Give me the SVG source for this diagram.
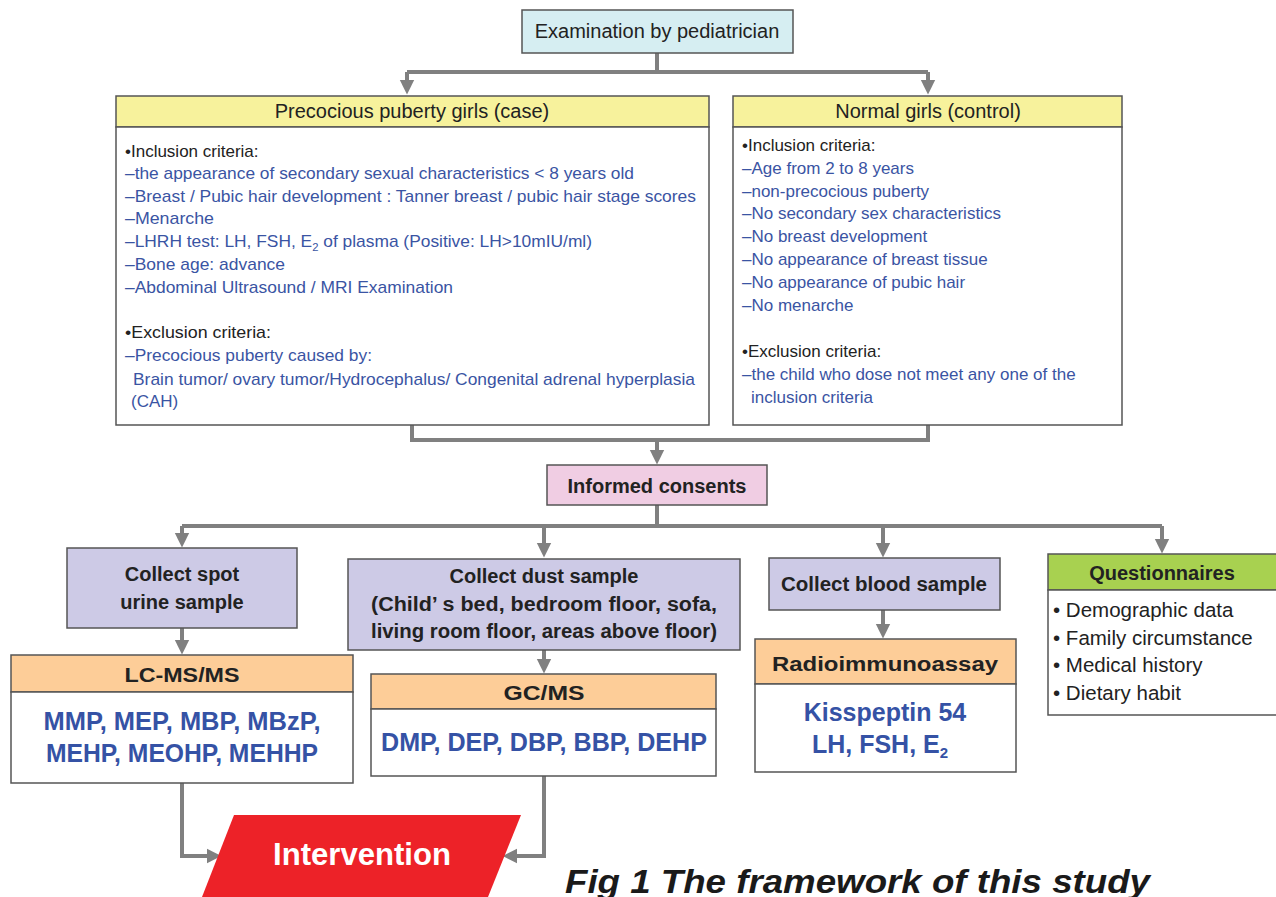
<svg xmlns="http://www.w3.org/2000/svg" width="1276" height="897" viewBox="0 0 1276 897">
<defs>
<marker id="ah" markerWidth="4" markerHeight="4" refX="2" refY="2" orient="auto" markerUnits="strokeWidth" viewBox="0 0 4 4">
<path d="M0,0.2 L3.6,2 L0,3.8 Z" fill="#808080"/>
</marker>
<style>
.box{stroke:#555;stroke-width:1.5}
.ln{fill:none;stroke:#808080;stroke-width:4}
.arr{fill:none;stroke:#808080;stroke-width:4;marker-end:url(#ah)}
.t{font-family:"Liberation Sans",Arial,sans-serif;fill:#222}
.hd{font-size:20px;text-anchor:middle}
.b{font-weight:bold}
.crit{font-size:17px}
.bl{fill:#3a54a3}
.bb{fill:#3552a5;font-weight:bold;font-size:25px;text-anchor:middle}
</style>
</defs>
<rect width="1276" height="897" fill="#fff"/>

<g id="connectors">
<path class="ln" d="M657,53 V72 M407,72 H928"/>
<path class="arr" d="M407,72 V88"/>
<path class="arr" d="M928,72 V88"/>
<path class="ln" d="M412,425 V440 H928 V425"/>
<path class="arr" d="M657,440 V458"/>
<path class="ln" d="M657,505 V526 M182,526 H1162"/>
<path class="arr" d="M182,526 V541"/>
<path class="arr" d="M544,526 V551"/>
<path class="arr" d="M883,526 V551"/>
<path class="arr" d="M1162,526 V547"/>
<path class="arr" d="M182,628 V648"/>
<path class="arr" d="M544,650 V667"/>
<path class="arr" d="M883,610 V632"/>
<path class="arr" d="M182,783 V856 H215"/>
<path class="arr" d="M544,776 V856 H509"/>
</g>

<g id="exam">
<rect class="box" x="522" y="10" width="271" height="43" fill="#d6eef2"/>
<text class="t hd" x="657" y="38" font-size="21">Examination by pediatrician</text>
</g>

<g id="case">
<rect class="box" x="116" y="96" width="593" height="31" fill="#f7f29c"/>
<rect class="box" x="116" y="127" width="593" height="298" fill="#fff"/>
<text class="t hd" x="412" y="118" font-size="21">Precocious puberty girls (case)</text>
<g class="t crit">
<text x="125" y="157">•Inclusion criteria:</text>
<text class="bl" x="125" y="179" textLength="509" lengthAdjust="spacingAndGlyphs">–the appearance of secondary sexual characteristics &lt; 8 years old</text>
<text class="bl" x="125" y="202" textLength="571" lengthAdjust="spacingAndGlyphs">–Breast / Pubic hair development : Tanner breast / pubic hair stage scores</text>
<text class="bl" x="125" y="224" textLength="89" lengthAdjust="spacingAndGlyphs">–Menarche</text>
<text class="bl" x="125" y="247" textLength="467" lengthAdjust="spacingAndGlyphs">–LHRH test: LH, FSH, E<tspan font-size="11" dy="4">2</tspan><tspan dy="-4"> of plasma (Positive: LH&gt;10mIU/ml)</tspan></text>
<text class="bl" x="125" y="270" textLength="160" lengthAdjust="spacingAndGlyphs">–Bone age: advance</text>
<text class="bl" x="125" y="293" textLength="328" lengthAdjust="spacingAndGlyphs">–Abdominal Ultrasound / MRI Examination</text>
<text x="125" y="338" textLength="146" lengthAdjust="spacingAndGlyphs">•Exclusion criteria:</text>
<text class="bl" x="125" y="361" textLength="247" lengthAdjust="spacingAndGlyphs">–Precocious puberty caused by:</text>
<text class="bl" x="133" y="385" textLength="562" lengthAdjust="spacingAndGlyphs">Brain tumor/ ovary tumor/Hydrocephalus/ Congenital adrenal hyperplasia</text>
<text class="bl" x="131" y="407">(CAH)</text>
</g>
</g>

<g id="control">
<rect class="box" x="733" y="96" width="389" height="31" fill="#f7f29c"/>
<rect class="box" x="733" y="127" width="389" height="298" fill="#fff"/>
<text class="t hd" x="928" y="118" font-size="21">Normal girls (control)</text>
<g class="t crit">
<text x="742" y="151">•Inclusion criteria:</text>
<text class="bl" x="742" y="174">–Age from 2 to 8 years</text>
<text class="bl" x="742" y="197">–non-precocious puberty</text>
<text class="bl" x="742" y="219">–No secondary sex characteristics</text>
<text class="bl" x="742" y="242">–No breast development</text>
<text class="bl" x="742" y="265">–No appearance of breast tissue</text>
<text class="bl" x="742" y="288">–No appearance of pubic hair</text>
<text class="bl" x="742" y="311">–No menarche</text>
<text x="742" y="357">•Exclusion criteria:</text>
<text class="bl" x="742" y="380">–the child who dose not meet any one of the</text>
<text class="bl" x="751" y="403">inclusion criteria</text>
</g>
</g>

<g id="consent">
<rect class="box" x="547" y="465" width="220" height="40" fill="#f0cde3"/>
<text class="t hd b" x="657" y="493" font-size="22">Informed consents</text>
</g>

<g id="urine">
<rect class="box" x="67" y="548" width="230" height="80" fill="#cdcae6"/>
<text class="t hd b" x="182" y="581">Collect spot</text>
<text class="t hd b" x="182" y="609">urine sample</text>
</g>

<g id="dust">
<rect class="box" x="348" y="559" width="392" height="91" fill="#cdcae6"/>
<text class="t hd b" x="544" y="583">Collect dust sample</text>
<text class="t hd b" x="544" y="611" textLength="346" lengthAdjust="spacingAndGlyphs">(Child’ s bed, bedroom floor, sofa,</text>
<text class="t hd b" x="544" y="638" textLength="346" lengthAdjust="spacingAndGlyphs">living room floor, areas above floor)</text>
</g>

<g id="blood">
<rect class="box" x="769" y="558" width="231" height="52" fill="#cdcae6"/>
<text class="t hd b" x="884" y="591" textLength="206" lengthAdjust="spacingAndGlyphs">Collect blood sample</text>
</g>

<g id="quest">
<rect class="box" x="1048" y="554" width="232" height="36" fill="#a8d150"/>
<rect class="box" x="1048" y="590" width="232" height="125" fill="#fff"/>
<text class="t hd b" x="1162" y="580" font-size="21">Questionnaires</text>
<g class="t" font-size="20.5">
<text x="1053" y="617">• Demographic data</text>
<text x="1053" y="645">• Family circumstance</text>
<text x="1053" y="672">• Medical history</text>
<text x="1053" y="700">• Dietary habit</text>
</g>
</g>

<g id="lcms">
<rect class="box" x="11" y="655" width="342" height="37" fill="#fdcd98"/>
<rect class="box" x="11" y="692" width="342" height="91" fill="#fff"/>
<text class="t hd b" x="182" y="682" font-size="24" textLength="115" lengthAdjust="spacingAndGlyphs">LC-MS/MS</text>
<text class="t bb" x="182" y="730" textLength="277" lengthAdjust="spacingAndGlyphs">MMP, MEP, MBP, MBzP,</text>
<text class="t bb" x="182" y="762" textLength="272" lengthAdjust="spacingAndGlyphs">MEHP, MEOHP, MEHHP</text>
</g>

<g id="gcms">
<rect class="box" x="371" y="674" width="345" height="35" fill="#fdcd98"/>
<rect class="box" x="371" y="709" width="345" height="67" fill="#fff"/>
<text class="t hd b" x="544" y="700" font-size="24" textLength="81" lengthAdjust="spacingAndGlyphs">GC/MS</text>
<text class="t bb" x="544" y="751" textLength="326" lengthAdjust="spacingAndGlyphs">DMP, DEP, DBP, BBP, DEHP</text>
</g>

<g id="ria">
<rect class="box" x="755" y="639" width="261" height="45" fill="#fdcd98"/>
<rect class="box" x="755" y="684" width="261" height="88" fill="#fff"/>
<text class="t hd b" x="885" y="671" font-size="24" textLength="226" lengthAdjust="spacingAndGlyphs">Radioimmunoassay</text>
<text class="t bb" x="885" y="721">Kisspeptin 54</text>
<text class="t bb" x="880" y="753">LH, FSH, E<tspan font-size="15" dy="5">2</tspan></text>
</g>

<g id="intervention">
<polygon points="234,815 521,815 488,897 202,897" fill="#ed2228"/>
<text class="t b" x="362" y="865" font-size="32" text-anchor="middle" textLength="178" lengthAdjust="spacingAndGlyphs" style="fill:#fff">Intervention</text>
</g>

<text class="t b" x="565" y="893" font-size="34" font-style="italic" textLength="585" lengthAdjust="spacingAndGlyphs" style="fill:#1a1a1a">Fig 1 The framework of this study</text>
</svg>
